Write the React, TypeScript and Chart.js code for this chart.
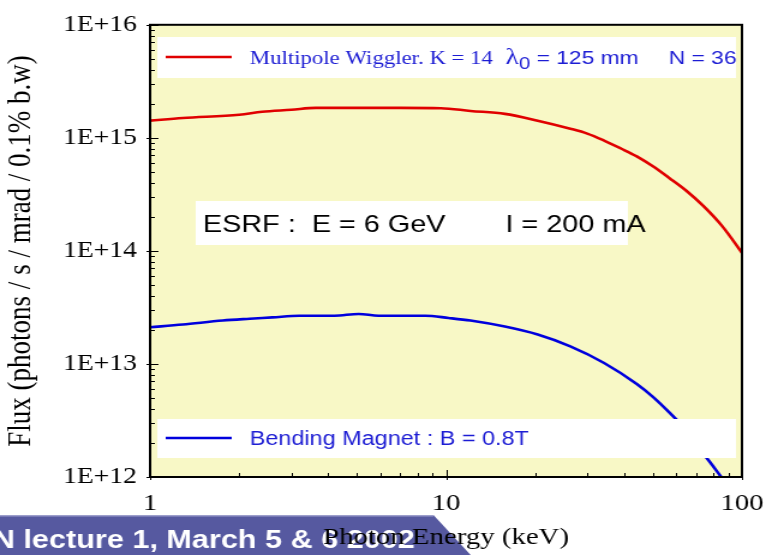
import React, { useEffect, useRef } from "react";
import { Chart, registerables } from "chart.js";

Chart.register(...registerables);

// ---- data ----
const xTickValues = [1, 10, 100];
const yTickValues = [1e12, 1e13, 1e14, 1e15, 1e16];

const wigglerEnergy = [1, 1.29, 2.0, 2.39, 3.0, 3.63, 5, 7, 9.6, 12.1, 15.8, 20.4, 26.3, 30, 34.2, 39, 44.1, 50, 56.9, 65, 74.0, 86, 100];
const wigglerFlux = [1.42e15, 1.5e15, 1.6e15, 1.7e15, 1.77e15, 1.84e15, 1.84e15, 1.84e15, 1.83e15, 1.73e15, 1.63e15, 1.42e15, 1.205e15, 1.09e15, 9.46e14, 8.05e14, 6.86e14, 5.6e14, 4.4e14, 3.39e14, 2.5e14, 1.64e14, 9.6e13];

const bendingEnergy = [1, 1.29, 1.76, 2.17, 2.59, 3.19, 4.2, 5.07, 5.91, 8.5, 10.2, 12.1, 15.8, 20.4, 26.3, 34.2, 44.1, 50, 56.9, 63, 68.5, 76, 85.1];
const bendingFlux = [2.11e13, 2.23e13, 2.42e13, 2.51e13, 2.58e13, 2.67e13, 2.67e13, 2.77e13, 2.67e13, 2.67e13, 2.55e13, 2.42e13, 2.14e13, 1.82e13, 1.43e13, 1.02e13, 6.65e12, 5.12e12, 3.71e12, 2.8e12, 2.02e12, 1.47e12, 1.0e12];

const xTitle = "Photon Energy (keV)";
const yTitle = "Flux (photons / s / mrad / 0.1% b.w)";
const wigglerLabel = "Multipole Wiggler. K = 14";
const bendingLabel = "Bending Magnet : B = 0.8T";
const esrfLeft = "ESRF :  E = 6 GeV";
const esrfRight = "I = 200 mA";
const bannerText = "N lecture 1, March 5 & 6 2002";

const W = 648;
const H = 555;
const STRETCH = 778 / W;

const SERIF = '"Liberation Serif", "Times New Roman", serif';
const SANS = '"Liberation Sans", Arial, sans-serif';
const TEXT_BLUE = "#1c1cd4";

const decorPlugin = {
  id: "decor",
  beforeDraw(chart: any) {
    const { ctx, chartArea: a } = chart;
    ctx.save();
    // banner
    ctx.fillStyle = "#5659a0";
    ctx.beginPath();
    ctx.moveTo(0, 515);
    ctx.lineTo(361, 515);
    ctx.lineTo(392, 555);
    ctx.lineTo(0, 555);
    ctx.closePath();
    ctx.fill();
    ctx.fillStyle = "#9c9ecb";
    ctx.fillRect(0, 515, 361, 1.5);
    ctx.fillStyle = "#ffffff";
    ctx.font = `bold 25.5px ${SANS}`;
    ctx.textBaseline = "alphabetic";
    ctx.textAlign = "left";
    ctx.fillText(bannerText, -6, 548);
    // plot background
    ctx.fillStyle = "#f8f8c6";
    ctx.fillRect(a.left, a.top, a.right - a.left, a.bottom - a.top);
    ctx.restore();
  },
  afterDatasetsDraw(chart: any) {
    const { ctx, chartArea: a } = chart;
    ctx.save();
    ctx.textAlign = "left";
    ctx.textBaseline = "alphabetic";
    // top legend box
    ctx.fillStyle = "#ffffff";
    ctx.fillRect(a.left + 6, 37, a.right - a.left - 11, 41);
    ctx.strokeStyle = "#e00000";
    ctx.lineWidth = 2.6;
    ctx.beginPath();
    ctx.moveTo(138, 57);
    ctx.lineTo(193, 57);
    ctx.stroke();
    ctx.fillStyle = TEXT_BLUE;
    ctx.font = `19px ${SERIF}`;
    ctx.fillText(wigglerLabel, 208, 64);
    let x = 421;
    ctx.font = `23px ${SERIF}`;
    ctx.fillText("\u03bb", x, 64);
    x += ctx.measureText("\u03bb").width;
    ctx.font = `17px ${SANS}`;
    ctx.fillText("0", x, 69);
    x += ctx.measureText("0").width;
    ctx.font = `19px ${SANS}`;
    ctx.fillText(" = 125 mm", x, 64);
    ctx.fillText("N = 36", 557, 64);

    // ESRF box
    ctx.fillStyle = "#ffffff";
    ctx.fillRect(163, 201, 360, 44);
    ctx.fillStyle = "#000000";
    ctx.font = `24px ${SANS}`;
    ctx.fillText(esrfLeft, 169, 232);
    ctx.fillText(esrfRight, 421, 232);

    // bottom legend box
    ctx.fillStyle = "#ffffff";
    ctx.fillRect(a.left + 6, 419, a.right - a.left - 11, 39);
    ctx.strokeStyle = "#0000dd";
    ctx.lineWidth = 2.6;
    ctx.beginPath();
    ctx.moveTo(138, 438);
    ctx.lineTo(193, 438);
    ctx.stroke();
    ctx.fillStyle = TEXT_BLUE;
    ctx.font = `19.5px ${SANS}`;
    ctx.fillText(bendingLabel, 208, 445);
    ctx.restore();
  },
  afterDraw(chart: any) {
    const { ctx, chartArea: a, scales } = chart;
    const xs = scales.x;
    const ys = scales.y;
    ctx.save();
    ctx.strokeStyle = "#000000";
    ctx.lineWidth = 1;
    // y ticks
    for (let k = 12; k <= 16; k++) {
      for (let m = 1; m <= 9; m++) {
        const v = m * Math.pow(10, k);
        if (v > 1e16 * 1.0001) break;
        const py = Math.round(ys.getPixelForValue(v)) + 0.5;
        const major = m === 1;
        ctx.beginPath();
        ctx.moveTo(a.left - (major ? 3 : 0), py);
        ctx.lineTo(a.left + (major ? 7 : 4), py);
        ctx.stroke();
      }
    }
    // x ticks
    for (let k = 0; k <= 2; k++) {
      for (let m = 1; m <= 9; m++) {
        const v = m * Math.pow(10, k);
        if (v > 100 * 1.0001) break;
        const px = Math.round(xs.getPixelForValue(v)) + 0.5;
        const major = m === 1;
        ctx.beginPath();
        ctx.moveTo(px, a.bottom + (major ? 3 : 0));
        ctx.lineTo(px, a.bottom - (major ? 7 : 4));
        ctx.stroke();
      }
    }
    // frame
    ctx.lineWidth = 2;
    ctx.strokeRect(a.left, a.top, a.right - a.left, a.bottom - a.top);
    ctx.restore();
  },
};

export default function App() {
  const canvasRef = useRef<HTMLCanvasElement | null>(null);

  useEffect(() => {
    const canvas = canvasRef.current;
    if (!canvas) return;
    const chart = new Chart(canvas, {
      type: "line",
      data: {
        datasets: [
          {
            label: wigglerLabel,
            data: wigglerEnergy.map((e, i) => ({ x: e, y: wigglerFlux[i] })),
            borderColor: "#e00000",
            borderWidth: 2.6,
            pointRadius: 0,
            tension: 0.3,
            cubicInterpolationMode: "monotone",
            fill: false,
          },
          {
            label: bendingLabel,
            data: bendingEnergy.map((e, i) => ({ x: e, y: bendingFlux[i] })),
            borderColor: "#0000dd",
            borderWidth: 2.6,
            pointRadius: 0,
            tension: 0.3,
            cubicInterpolationMode: "monotone",
            fill: false,
          },
        ],
      },
      options: {
        responsive: false,
        devicePixelRatio: 1,
        animation: false,
        layout: { padding: { left: 0, right: 26.5, top: 22, bottom: 0 } },
        plugins: {
          legend: { display: false },
          tooltip: { enabled: false },
        },
        scales: {
          x: {
            type: "logarithmic",
            position: "bottom",
            min: 1,
            max: 100,
            grid: { display: false, drawTicks: false },
            border: { display: false },
            afterBuildTicks: (scale: any) => {
              scale.ticks = xTickValues.map((v) => ({ value: v }));
            },
            afterFit: (scale: any) => {
              scale.height = 78;
            },
            ticks: {
              autoSkip: false,
              maxRotation: 0,
              padding: 12,
              color: "#000000",
              font: { family: SERIF, size: 24 },
              callback: (v: any) => String(v),
            },
            title: {
              display: true,
              text: xTitle,
              color: "#000000",
              font: { family: SERIF, size: 24 },
              padding: { top: 0, bottom: 3 },
            },
          },
          y: {
            type: "logarithmic",
            position: "left",
            min: 1e12,
            max: 1e16,
            grid: { display: false, drawTicks: false },
            border: { display: false },
            afterBuildTicks: (scale: any) => {
              scale.ticks = yTickValues.map((v) => ({ value: v }));
            },
            afterFit: (scale: any) => {
              scale.width = 125;
            },
            ticks: {
              autoSkip: false,
              padding: 11,
              color: "#000000",
              font: { family: SERIF, size: 23 },
              callback: (v: any) => "1E+" + Math.round(Math.log10(Number(v))),
            },
            title: {
              display: true,
              text: yTitle,
              color: "#000000",
              font: { family: SERIF, size: 27 },
              padding: { top: 2, bottom: 0 },
            },
          },
        },
      },
      plugins: [decorPlugin],
    } as any);
    return () => chart.destroy();
  }, []);

  return (
    <div
      style={{
        position: "fixed",
        left: 0,
        top: 0,
        width: 778,
        height: 555,
        overflow: "hidden",
        background: "#ffffff",
      }}
    >
      <div
        style={{
          width: W,
          height: H,
          transform: `scaleX(${STRETCH})`,
          transformOrigin: "0 0",
        }}
      >
        <canvas ref={canvasRef} width={W} height={H} style={{ display: "block", width: W, height: H }} />
      </div>
    </div>
  );
}
